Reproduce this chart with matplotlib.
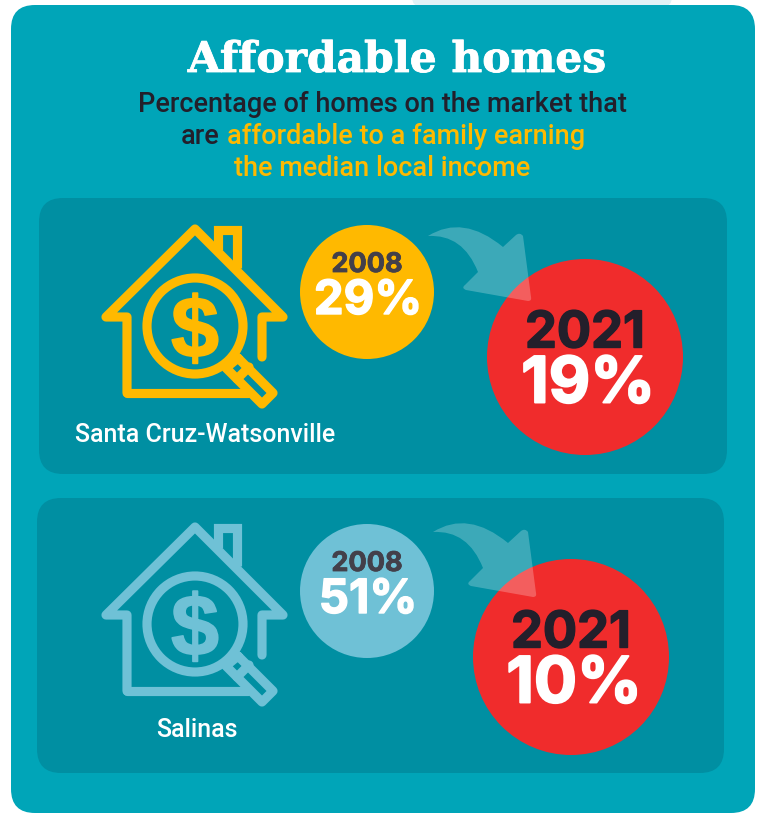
import matplotlib
matplotlib.use("Agg")
import matplotlib.pyplot as plt
import matplotlib.patheffects as pe
from matplotlib.patches import FancyBboxPatch, Circle, PathPatch
from matplotlib.path import Path

# Data
title = "Affordable homes"
places = ["Santa Cruz-Watsonville", "Salinas"]
years = ["2008", "2021"]
pct_2008 = [29, 51]
pct_2021 = [19, 10]

TEAL, PANEL = "#00a5b8", "#008fa2"
YELLOW, LIGHT, RED = "#ffb900", "#6fc1d6", "#f02c2c"
DARK, GREY = "#231f2b", "#43404a"
NUM = "Inter"
SUB = "Roboto"

fig = plt.figure(figsize=(7.59, 8.13), dpi=100, facecolor="white")
ax = fig.add_axes([0, 0, 1, 1])
ax.set_xlim(0, 759)
ax.set_ylim(813, 0)
ax.axis("off")


def rbox(x0, y0, x1, y1, r, color, z=1):
    ax.add_patch(FancyBboxPatch((x0 + r, y0 + r), x1 - x0 - 2 * r, y1 - y0 - 2 * r,
                                boxstyle=f"round,pad={r},rounding_size={r}",
                                fc=color, ec="none", zorder=z))


def stroke(pts, color, lw=6.6, closed=False, join="round"):
    xs = [p[0] for p in pts]
    ys = [p[1] for p in pts]
    if closed:
        xs.append(xs[0])
        ys.append(ys[0])
    ax.plot(xs, ys, color=color, lw=lw, solid_capstyle="round" if join == "round" else "butt",
            solid_joinstyle=join, zorder=3)


def heavy(t, color, w=1.0):
    t.set_path_effects([pe.withStroke(linewidth=w, foreground=color)])


def house(dy, color):
    stroke([(127, 393 + dy), (127, 317 + dy), (106, 317 + dy), (195, 229 + dy),
            (283, 317 + dy), (262, 317 + dy), (262, 357 + dy)], color)
    stroke([(127, 393 + dy), (248, 393 + dy)], color)
    stroke([(218, 250 + dy), (218, 230 + dy), (237, 230 + dy), (237, 268 + dy)], color, join="miter")
    ax.add_patch(Circle((195, 326 + dy), 48, fc="none", ec=color, lw=6.6, zorder=3))
    t = ax.text(195, 326 + dy, "$", color=color, fontsize=62, fontfamily="Liberation Sans",
                fontweight="bold", ha="center", va="center_baseline", zorder=3)
    heavy(t, color, 1.2)
    stroke([(238, 358 + dy), (273, 393 + dy), (262, 404 + dy), (226, 368 + dy)], color, closed=True)
    stroke([(237, 379 + dy), (249, 367 + dy)], color)


def arrow(dx, dy):
    P = [(428, 236), (463, 214), (503, 247), (516, 235), (520, 232), (523, 236),
         (531, 297), (532, 301), (528, 301), (466, 290), (461, 288), (465, 285),
         (478, 272), (463, 234), (428, 236)]
    codes = [Path.MOVETO, Path.CURVE3, Path.CURVE3, Path.LINETO, Path.CURVE3, Path.CURVE3,
             Path.LINETO, Path.CURVE3, Path.CURVE3, Path.LINETO, Path.CURVE3, Path.CURVE3,
             Path.LINETO, Path.CURVE3, Path.CURVE3]
    path = Path([(x + dx, y + dy) for x, y in P], codes)
    ax.add_patch(PathPatch(path, fc="white", ec="none", alpha=0.24, zorder=4))


# Background
rbox(412, -20, 672, 7, 10, "#e1f2f6", 0)
rbox(11, 5, 755, 813, 24, TEAL, 1)
panels = [(39, 198, 727, 474), (37, 498, 724, 773)]
for p in panels:
    rbox(*p, 24, PANEL, 2)

# Headings
t = ax.text(397, 60, title, color="white", fontsize=30.5, fontfamily="DejaVu Serif",
            fontweight="bold", ha="center", va="center", zorder=5)
heavy(t, "white", 0.6)
sub_kw = dict(fontsize=19.5, fontfamily=SUB, fontweight="medium", va="center", zorder=5)
ax.text(382, 105, "Percentage of homes on the market that", color=DARK, ha="center", **sub_kw)
ax.text(219, 137, "are", color=DARK, ha="right", **sub_kw)
ax.text(227, 137, "affordable to a family earning", color=YELLOW, ha="left", **sub_kw)
ax.text(382, 168, "the median local income", color=YELLOW, ha="center", **sub_kw)

# Rows
house_dy = [0, 298]
label_xy = [(205, 435), (197, 730)]
old_xy = [(367, 292), (367, 591)]
new_xy = [(585, 357), (571, 657)]
arrow_off = [(0, 0), (5, 296)]
old_col = [YELLOW, LIGHT]

for i, place in enumerate(places):
    house(house_dy[i], old_col[i])
    ax.text(*label_xy[i], place, color="white", fontsize=18, fontfamily=SUB,
            fontweight="medium", ha="center", va="center", zorder=5)
    ox, oy = old_xy[i]
    ax.add_patch(Circle((ox, oy), 67, fc=old_col[i], ec="none", zorder=3))
    t = ax.text(ox, oy - 27, years[0], color=GREY, fontsize=19.5, fontfamily=NUM, fontweight="bold",
                ha="center", va="center", zorder=5)
    heavy(t, GREY, 0.6)
    t = ax.text(ox + 1, oy + 10, f"{pct_2008[i]}%", color="white", fontsize=34, fontfamily=NUM,
                fontweight="bold", ha="center", va="center", zorder=5)
    heavy(t, "white", 1.0)
    nx, ny = new_xy[i]
    ax.add_patch(Circle((nx, ny), 98, fc=RED, ec="none", zorder=3))
    arrow(*arrow_off[i])
    t = ax.text(nx, ny - 23, years[1], color=DARK, fontsize=36.5, fontfamily=NUM, fontweight="bold",
                ha="center", va="center", zorder=5)
    heavy(t, DARK, 1.0)
    t = ax.text(nx + 3, ny + 29, f"{pct_2021[i]}%", color="white", fontsize=46, fontfamily=NUM,
                fontweight="bold", ha="center", va="center", zorder=5)
    heavy(t, "white", 1.4)

fig.savefig("out.png", dpi=100, facecolor="white")
